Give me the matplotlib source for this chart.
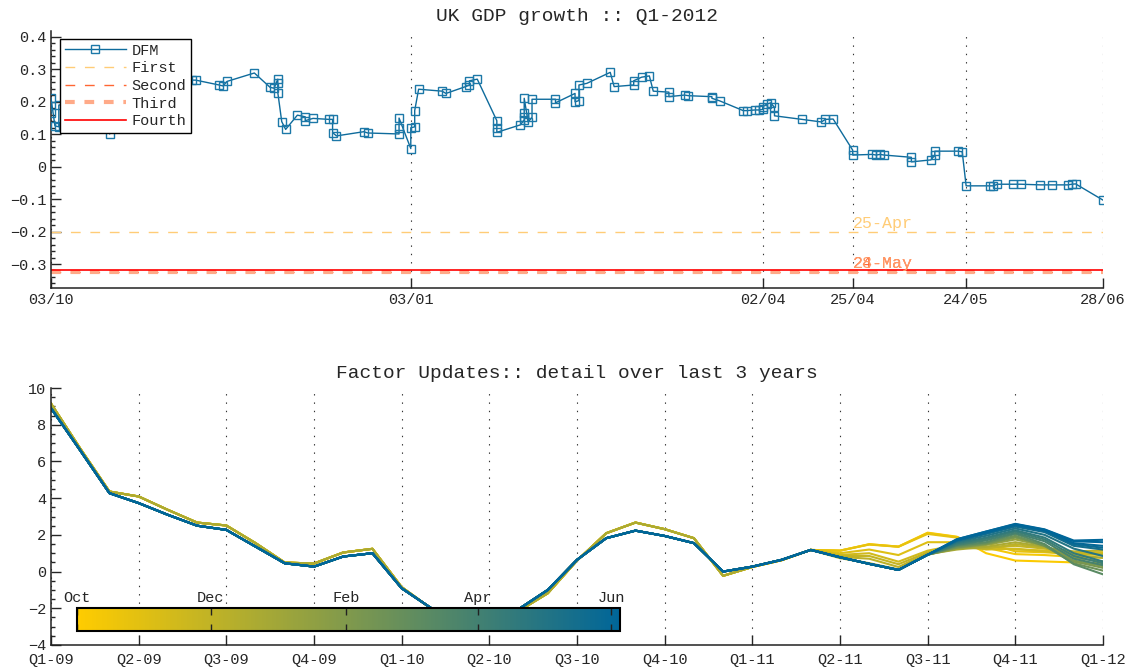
import numpy as np
import pandas as pd
import matplotlib
matplotlib.use("Agg")
import matplotlib.pyplot as plt
import matplotlib.dates as mdates
from matplotlib.colors import LinearSegmentedColormap, Normalize
from matplotlib.cm import ScalarMappable
from matplotlib.ticker import AutoMinorLocator, FuncFormatter

plt.rcParams['font.family'] = ['Liberation Mono', 'DejaVu Sans Mono']
plt.rcParams['lines.scale_dashes'] = False
plt.rcParams['text.color'] = '#262626'
plt.rcParams['xtick.color'] = '#262626'
plt.rcParams['ytick.color'] = '#262626'

# DFM nowcast of Q1-2012 GDP growth, one value per model update
dfm_dates = [
    '2011-10-03', '2011-10-03', '2011-10-04', '2011-10-05', '2011-10-05',
    '2011-10-11', '2011-10-17', '2011-10-18', '2011-10-24', '2011-11-01',
    '2011-11-08', '2011-11-09', '2011-11-15', '2011-11-16', '2011-11-17',
    '2011-11-24', '2011-11-28', '2011-11-29', '2011-11-30', '2011-11-30',
    '2011-11-30', '2011-12-01', '2011-12-02', '2011-12-05', '2011-12-07',
    '2011-12-07', '2011-12-09', '2011-12-13', '2011-12-14', '2011-12-14',
    '2011-12-15', '2011-12-22', '2011-12-23', '2011-12-31', '2011-12-31',
    '2011-12-31', '2012-01-03', '2012-01-03', '2012-01-04', '2012-01-04',
    '2012-01-05', '2012-01-11', '2012-01-12', '2012-01-17', '2012-01-18',
    '2012-01-18', '2012-01-20', '2012-01-25', '2012-01-25', '2012-01-25',
    '2012-01-31', '2012-02-01', '2012-02-01', '2012-02-01', '2012-02-01',
    '2012-02-02', '2012-02-03', '2012-02-03', '2012-02-09', '2012-02-09',
    '2012-02-14', '2012-02-14', '2012-02-15', '2012-02-15', '2012-02-17',
    '2012-02-23', '2012-02-24', '2012-02-29', '2012-02-29', '2012-03-02',
    '2012-03-04', '2012-03-05', '2012-03-09', '2012-03-09', '2012-03-13',
    '2012-03-14', '2012-03-20', '2012-03-20', '2012-03-22', '2012-03-28',
    '2012-03-29', '2012-03-31', '2012-04-01', '2012-04-02', '2012-04-02',
    '2012-04-03', '2012-04-04', '2012-04-05', '2012-04-05', '2012-04-12',
    '2012-04-17', '2012-04-18', '2012-04-20', '2012-04-25', '2012-04-25',
    '2012-04-30', '2012-05-01', '2012-05-02', '2012-05-03', '2012-05-10',
    '2012-05-10', '2012-05-15', '2012-05-16', '2012-05-16', '2012-05-22',
    '2012-05-23', '2012-05-24', '2012-05-30', '2012-05-31', '2012-06-01',
    '2012-06-05', '2012-06-07', '2012-06-12', '2012-06-15', '2012-06-19',
    '2012-06-20', '2012-06-21', '2012-06-28',
]
dfm_values = [
    0.165, 0.212, 0.126, 0.123, 0.190,
    0.205, 0.215, 0.101, 0.235, 0.255,
    0.267, 0.267, 0.252, 0.249, 0.263,
    0.289, 0.245, 0.242, 0.270, 0.257,
    0.228, 0.139, 0.115, 0.159, 0.154,
    0.142, 0.149, 0.146, 0.146, 0.105,
    0.095, 0.108, 0.104, 0.101, 0.118,
    0.150, 0.056, 0.120, 0.123, 0.173,
    0.239, 0.233, 0.226, 0.247, 0.252,
    0.265, 0.270, 0.142, 0.118, 0.106,
    0.129, 0.144, 0.154, 0.165, 0.211,
    0.138, 0.152, 0.208, 0.208, 0.197,
    0.226, 0.200, 0.204, 0.252, 0.257,
    0.291, 0.247, 0.252, 0.265, 0.276,
    0.280, 0.233, 0.230, 0.216, 0.221,
    0.219, 0.216, 0.211, 0.203, 0.173,
    0.173, 0.175, 0.175, 0.177, 0.185,
    0.193, 0.197, 0.183, 0.157, 0.146,
    0.138, 0.146, 0.147, 0.051, 0.036,
    0.038, 0.036, 0.038, 0.036, 0.029,
    0.015, 0.021, 0.036, 0.048, 0.048,
    0.046, -0.059, -0.059, -0.059, -0.054,
    -0.054, -0.054, -0.056, -0.056, -0.056,
    -0.054, -0.053, -0.103,
]

# official ONS estimates
release_names = ['First', 'Second', 'Third', 'Fourth']
release_values = [-0.2, -0.325, -0.325, -0.32]
release_colors = ['#FFCC77', '#FF6633', '#FFAA88', '#FF0000']
release_styles = ['--', '--', '--', '-']
release_widths = [1.0, 1.0, 3.0, 1.2]
release_labels = ['25-Apr', '24-May', '28-May']
release_label_colors = ['#FFCC77', '#FF6633', '#FF9966']
label_date = '2012-04-25'

top_ticks = ['2011-10-03', '2012-01-03', '2012-04-02', '2012-04-25', '2012-05-24', '2012-06-28']

# monthly factor, Jan-09 .. Feb-11, before and after the January revision
head_old = [9.15, 6.70, 4.36, 4.09, 3.36, 2.67, 2.51, 1.55, 0.49, 0.44, 1.04, 1.24,
            -0.85, -2.00, -2.60, -2.85, -2.15, -1.18, 0.60, 2.09, 2.67, 2.31, 1.82,
            -0.23, 0.25, 0.62]
head_new = [8.90, 6.60, 4.27, 3.73, 3.09, 2.50, 2.27, 1.36, 0.45, 0.27, 0.82, 1.00,
            -0.91, -1.98, -2.60, -2.85, -2.05, -1.00, 0.64, 1.82, 2.23, 1.94, 1.55,
            0.00, 0.27, 0.64]
revision_date = '2012-01-01'

# factor Mar-11 .. Jan-12 for each update
vintage_dates = ['2011-10-05', '2011-10-12', '2011-10-25', '2011-11-02', '2011-11-15',
                 '2011-11-28', '2011-12-05', '2011-12-22', '2012-01-12', '2012-01-31',
                 '2012-02-08', '2012-02-20', '2012-03-09', '2012-03-28', '2012-04-05',
                 '2012-04-17', '2012-05-03', '2012-05-16', '2012-05-24', '2012-05-31',
                 '2012-06-15', '2012-06-25']
vintage_tails = [
    [1.18, 1.14, 1.49, 1.36, 2.12, 1.90, 1.00, 0.60, 0.55, 0.50, 0.45],
    [1.18, 1.14, 1.49, 1.36, 2.10, 1.88, 1.30, 0.95, 0.90, 0.80, 0.75],
    [1.18, 1.14, 1.47, 1.35, 2.05, 1.85, 1.55, 1.10, 1.05, 0.95, 0.90],
    [1.18, 1.00, 1.20, 0.90, 1.60, 1.60, 1.35, 1.20, 1.15, 1.05, 1.05],
    [1.18, 0.91, 1.00, 0.54, 1.14, 1.45, 1.20, 1.25, 1.10, 0.95, 1.00],
    [1.18, 0.85, 0.85, 0.40, 1.05, 1.35, 1.30, 1.40, 1.25, 1.00, 0.95],
    [1.18, 0.80, 0.70, 0.25, 1.00, 1.30, 1.25, 1.50, 1.30, 1.10, 1.15],
    [1.18, 0.73, 0.46, 0.12, 0.95, 1.20, 1.35, 1.60, 1.35, 0.90, 0.75],
    [1.18, 0.78, 0.42, 0.09, 0.92, 1.25, 1.45, 1.75, 1.40, 0.75, 0.55],
    [1.18, 0.78, 0.42, 0.09, 0.92, 1.30, 1.50, 1.85, 1.45, 0.60, 0.30],
    [1.18, 0.78, 0.42, 0.09, 0.92, 1.32, 1.52, 1.90, 1.42, 0.55, 0.20],
    [1.18, 0.78, 0.42, 0.09, 0.92, 1.35, 1.55, 1.95, 1.40, 0.45, 0.05],
    [1.18, 0.78, 0.42, 0.09, 0.92, 1.40, 1.60, 2.05, 1.50, 0.40, -0.15],
    [1.18, 0.78, 0.42, 0.09, 0.92, 1.45, 1.70, 2.10, 1.65, 0.70, 0.35],
    [1.18, 0.78, 0.42, 0.09, 0.92, 1.50, 1.78, 2.18, 1.75, 0.85, 0.45],
    [1.18, 0.78, 0.42, 0.09, 0.92, 1.55, 1.85, 2.25, 1.85, 1.00, 0.55],
    [1.18, 0.78, 0.42, 0.09, 0.92, 1.62, 1.95, 2.35, 2.00, 1.25, 0.85],
    [1.18, 0.78, 0.42, 0.09, 0.92, 1.68, 2.05, 2.45, 2.15, 1.40, 1.20],
    [1.18, 0.78, 0.42, 0.09, 0.92, 1.70, 2.10, 2.50, 2.20, 1.48, 1.30],
    [1.18, 0.78, 0.42, 0.09, 0.92, 1.72, 2.12, 2.55, 2.25, 1.55, 1.40],
    [1.18, 0.78, 0.42, 0.09, 0.91, 1.76, 2.18, 2.58, 2.28, 1.65, 1.60],
    [1.18, 0.78, 0.42, 0.09, 0.91, 1.76, 2.18, 2.60, 2.30, 1.69, 1.73],
]
quarter_labels = ['Q1-09', 'Q2-09', 'Q3-09', 'Q4-09', 'Q1-10', 'Q2-10', 'Q3-10',
                  'Q4-10', 'Q1-11', 'Q2-11', 'Q3-11', 'Q4-11', 'Q1-12']

cbar_ticks = ['2011-10-01', '2011-12-01', '2012-02-01', '2012-04-01', '2012-06-01']
cbar_labels = ['Oct', 'Dec', 'Feb', 'Apr', 'Jun']
cbar_range = ['2011-10-01', '2012-06-05']


def d2n(dates):
    return mdates.date2num(pd.to_datetime(dates))


def style_axes(ax):
    for side in ['top', 'right']:
        ax.spines[side].set_visible(False)
    for side in ['left', 'bottom']:
        ax.spines[side].set_linewidth(1.1)
        ax.spines[side].set_color('#222222')
    ax.tick_params(which='both', direction='in', width=1.0, labelsize=11)
    ax.tick_params(which='major', length=7)
    ax.tick_params(which='minor', length=3)
    ax.tick_params(axis='x', which='minor', length=0)
    ax.xaxis.grid(True, linestyle=(0, (1, 5)), color='#333333', linewidth=0.8)
    ax.set_axisbelow(True)


def num_fmt(v, pos):
    return ('%g' % round(v, 3)).replace('-', '\u2212')


W, H = 1134, 670
fig = plt.figure(figsize=(W / 100, H / 100), dpi=100)

# ---- top panel: nowcast path ----
ax1 = fig.add_axes([51 / W, (H - 288) / H, 1052 / W, 257 / H])
style_axes(ax1)
x_dfm = d2n(dfm_dates)
x_lo, x_hi = d2n([top_ticks[0], top_ticks[-1]])
for name, val, col, ls, lw in zip(release_names, release_values, release_colors,
                                  release_styles, release_widths):
    ln, = ax1.plot([x_lo, x_hi], [val, val], color=col, linestyle=ls, linewidth=lw,
                   label=name, zorder=2)
    if ls == '--':
        ln.set_dashes((7, 7))
ax1.plot(x_dfm, dfm_values, color='#0E6B9C', linewidth=1.0, marker='s', markersize=5.5,
         markerfacecolor='none', markeredgecolor='#1C78A8', markeredgewidth=1.0,
         label='DFM', zorder=3)
lx = d2n([label_date])[0]
for txt, val, col in zip(release_labels, release_values, release_label_colors):
    ax1.text(lx, val + 0.003, txt, color=col, fontsize=12, ha='left', va='bottom')

handles, labels = ax1.get_legend_handles_labels()
order = [labels.index(n) for n in ['DFM'] + release_names]
leg = ax1.legend([handles[i] for i in order], [labels[i] for i in order],
                 loc='upper left', bbox_to_anchor=(9 / 1052, 1 - 8 / 257),
                 borderaxespad=0, fontsize=11, handlelength=4.0, handletextpad=0.4,
                 labelspacing=0.24, borderpad=0.3, fancybox=False, framealpha=1,
                 edgecolor='black')
leg.get_frame().set_linewidth(1.0)
leg.set_zorder(10)

ax1.set_xlim(x_lo, x_hi)
ax1.set_ylim(-0.374, 0.4185)
ax1.set_xticks(d2n(top_ticks))
ax1.xaxis.set_major_formatter(mdates.DateFormatter('%d/%m'))
ax1.set_yticks(np.arange(-0.3, 0.41, 0.1))
ax1.yaxis.set_major_formatter(FuncFormatter(num_fmt))
ax1.yaxis.set_minor_locator(AutoMinorLocator(5))
ax1.set_title('UK GDP growth :: Q1-2012', fontsize=14, pad=7)

# ---- bottom panel: factor by update ----
ax2 = fig.add_axes([51 / W, (H - 645) / H, 1052 / W, 257 / H])
style_axes(ax2)
ax2.tick_params(axis='x', pad=6)
cmap = LinearSegmentedColormap.from_list('updates', ['#FFCC00', '#006699'])
c_lo, c_hi = d2n(cbar_range)
norm = Normalize(vmin=c_lo, vmax=c_hi, clip=True)
rev = d2n([revision_date])[0]
months = np.arange(len(head_old) + len(vintage_tails[0]))
for vd, tail in zip(d2n(vintage_dates), vintage_tails):
    head = head_old if vd < rev else head_new
    ax2.plot(months, head + tail, color=cmap(norm(vd)), linewidth=1.5, zorder=2)

ax2.set_xlim(months[0], months[-1])
ax2.set_ylim(-4, 10)
ax2.set_xticks(months[::3])
ax2.set_xticklabels(quarter_labels)
ax2.set_yticks(np.arange(-4, 11, 2))
ax2.yaxis.set_major_formatter(FuncFormatter(num_fmt))
ax2.yaxis.set_minor_locator(AutoMinorLocator(4))
ax2.set_title('Factor Updates:: detail over last 3 years', fontsize=14, pad=7)

# colour key for update dates
cax = fig.add_axes([77 / W, (H - 631) / H, 543 / W, 23 / H])
cb = fig.colorbar(ScalarMappable(norm=norm, cmap=cmap), cax=cax, orientation='horizontal',
                  ticks=d2n(cbar_ticks))
cb.set_ticklabels(cbar_labels)
cb.outline.set_linewidth(1.5)
cb.outline.set_edgecolor('black')
cax.tick_params(axis='x', direction='in', top=True, bottom=True, labeltop=True,
                labelbottom=False, length=5, width=1.0, labelsize=11, pad=2, color='#222222')
cax.xaxis.set_ticks_position('both')
cax.xaxis.set_label_position('top')

fig.savefig('out.png', dpi=100)
